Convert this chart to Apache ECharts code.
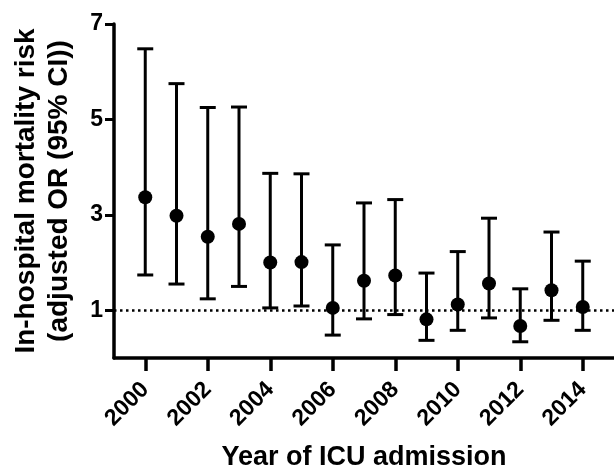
<!DOCTYPE html>
<html>
<head>
<meta charset="utf-8">
<script src="https://cdn.jsdelivr.net/npm/echarts@6/dist/echarts.min.js"></script>
<style>
  html, body { margin: 0; padding: 0; background: #fff; }
  #main { width: 614px; height: 468px; }
</style>
</head>
<body>
<div id="main"></div>
<script>
// year of ICU admission
var years = [2000, 2001, 2002, 2003, 2004, 2005, 2006, 2007, 2008, 2009, 2010, 2011, 2012, 2013, 2014];
// adjusted OR and 95% CI
var oddsRatio = [3.37, 2.98, 2.54, 2.81, 2.00, 2.01, 1.05, 1.62, 1.73, 0.81, 1.12, 1.56, 0.67, 1.42, 1.07];
var ciLower = [1.74, 1.55, 1.24, 1.50, 1.05, 1.09, 0.48, 0.82, 0.91, 0.37, 0.58, 0.84, 0.34, 0.79, 0.58];
var ciUpper = [6.48, 5.75, 5.25, 5.26, 3.87, 3.86, 2.37, 3.25, 3.32, 1.78, 2.23, 2.93, 1.45, 2.64, 2.03];
// axis ticks
var xTicks = [2000, 2002, 2004, 2006, 2008, 2010, 2012, 2014];
var yTicks = [1, 3, 5, 7];

var font = 'Liberation Sans, Arial, sans-serif';

var pointData = [];
var barData = [];
for (var i = 0; i < years.length; i++) {
    pointData.push([years[i], oddsRatio[i]]);
    barData.push([years[i], ciLower[i], ciUpper[i]]);
}

// 误差线
function renderErrorBar(params, api) {
    var lo = api.coord([api.value(0), api.value(1)]);
    var hi = api.coord([api.value(0), api.value(2)]);
    var half = 8;
    var style = { stroke: '#000', lineWidth: 3 };
    return {
        type: 'group',
        children: [
            { type: 'line', shape: { x1: lo[0], y1: lo[1], x2: hi[0], y2: hi[1] }, style: style },
            { type: 'line', shape: { x1: lo[0] - half, y1: lo[1], x2: lo[0] + half, y2: lo[1] }, style: style },
            { type: 'line', shape: { x1: hi[0] - half, y1: hi[1], x2: hi[0] + half, y2: hi[1] }, style: style }
        ]
    };
}

var chart = echarts.init(document.getElementById('main'));
chart.setOption({
    animation: false,
    backgroundColor: '#fff',
    grid: {
        left: 114,
        right: 0,
        top: 24,
        bottom: 110,
        containLabel: false,
        outerBoundsMode: 'none'
    },
    xAxis: {
        type: 'value',
        min: 1999,
        max: 2015,
        name: 'Year of ICU admission',
        nameLocation: 'middle',
        nameGap: 86,
        nameTextStyle: { fontFamily: font, fontWeight: 'bold', fontSize: 27, color: '#000' },
        splitLine: { show: false },
        axisLine: { onZero: false, lineStyle: { color: '#000', width: 3.5 } },
        axisTick: { show: true, customValues: xTicks, length: 13, lineStyle: { color: '#000', width: 3.5 } },
        axisLabel: {
            customValues: xTicks,
            formatter: function (v) { return String(v); },
            rotate: 45,
            margin: 28,
            fontFamily: font,
            fontWeight: 'bold',
            fontSize: 23,
            color: '#000'
        }
    },
    yAxis: {
        type: 'value',
        min: 0,
        max: 7,
        name: 'In-hospital mortality risk\n(adjusted OR (95% CI))',
        nameLocation: 'middle',
        nameRotate: 90,
        nameGap: 38,
        nameTextStyle: { fontFamily: font, fontWeight: 'bold', fontSize: 28, lineHeight: 33, color: '#000' },
        splitLine: { show: false },
        axisLine: { show: true, lineStyle: { color: '#000', width: 3.5 } },
        axisTick: { show: true, customValues: yTicks, length: 9, lineStyle: { color: '#000', width: 3 } },
        axisLabel: {
            customValues: yTicks,
            margin: 11,
            fontFamily: font,
            fontWeight: 'bold',
            fontSize: 23,
            color: '#000'
        }
    },
    series: [
        {
            name: 'CI',
            type: 'custom',
            renderItem: renderErrorBar,
            encode: { x: 0, y: [1, 2] },
            data: barData,
            z: 2
        },
        {
            name: 'OR',
            type: 'scatter',
            symbol: 'circle',
            symbolSize: 14,
            itemStyle: { color: '#000', opacity: 1 },
            data: pointData,
            z: 3,
            markLine: {
                silent: true,
                symbol: 'none',
                label: { show: false },
                lineStyle: { color: '#000', width: 2.5, type: [2.5, 3.5], opacity: 1 },
                data: [{ yAxis: 1 }]
            }
        }
    ]
});
</script>
</body>
</html>
